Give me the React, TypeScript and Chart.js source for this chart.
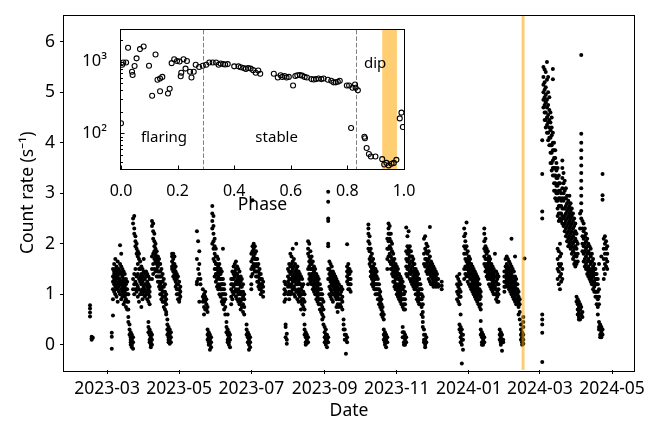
import React, { useEffect, useRef } from "react";
import { Chart, registerables } from "chart.js";

Chart.register(...registerables);

// ---------- main light curve: x = days since 2023-01-01, values = count rate (s^-1) ----------
const monthTickDays = [59, 120, 181, 243, 304, 365, 425, 486];
const monthTickLabels = ["2023-03", "2023-05", "2023-07", "2023-09", "2023-11", "2024-01", "2024-03", "2024-05"];
const rateTicks = [0, 1, 2, 3, 4, 5, 6];
const markerDay = 410.8; // 2024-02-15

type DayObs = [number, number[]];

const obsSpring2023: DayObs[] = [
  [44.6, [0.78, 0.72, 0.64, 0.56]], [46, [0.16, 0.13, 0.1]], [47, [0.14]],
  [63, [0.24, 0.16, -0.08]], [64, [0.58, 1.25, 1.35, 1.5, 1.1, 0.9]],
  [65, [1.6, 1.45, 1.3, 1.2, 1.05, 1.4]], [66, [1.7, 1.5, 1.35, 1.25, 1.15, 1.0]],
  [67, [1.55, 1.4, 1.3, 1.2, 1.1, 0.95]], [68, [1.65, 1.45, 1.35, 1.2, 1.1, 0.85]],
  [69, [1.5, 1.4, 1.3, 1.25, 1.15, 1.05]], [70, [1.97, 1.6, 1.45, 1.3, 1.2, 1.0]],
  [71, [1.8, 1.55, 1.4, 1.25, 1.1, 0.9]], [72, [1.5, 1.35, 1.25, 1.15, 1.05, 0.95]],
  [73, [1.45, 1.3, 1.2, 1.1, 1.0, 0.8]], [74, [1.4, 1.25, 1.15, 1.05, 0.95, 0.85]],
  [75, [1.3, 1.2, 1.1, 1.0, 0.9, 0.75]], [76, [1.25, 1.1, 1.0, 0.85, 0.7]],
  [77, [1.0, 0.85, 0.7, 0.55, 0.45]], [78, [0.4, 0.3, 0.2]],
  [79, [0.25, 0.15, 0.05, 0.1, 0.0]], [80, [0.2, 0.1, 0.0, -0.05]],
  [81, [0.15, 0.05, -0.08, 2.5, 2.4, 1.3, 1.1]], [82, [2.55, 2.3, 2.2, 1.4, 1.2, 1.0]],
  [83, [2.15, 2.05, 1.95, 1.5, 1.25, 1.1]], [84, [2.0, 1.9, 1.8, 1.35, 1.2, 1.05]],
  [85, [1.85, 1.75, 1.6, 1.4, 1.15, 0.95]], [86, [1.8, 1.7, 1.5, 1.3, 1.1, 0.85]],
  [87, [1.65, 1.5, 1.35, 1.25, 1.0]], [88, [1.55, 1.4, 1.3, 1.2, 1.05, 0.75]],
  [89, [1.5, 1.35, 1.25, 1.1, 1.0, 0.9]], [90, [1.7, 1.45, 1.3, 1.15, 1.05]],
  [91, [1.4, 1.3, 1.2, 1.1, 0.95]], [92, [1.45, 1.35, 1.2, 1.05, 1.0]],
  [93, [1.4, 1.25, 1.15, 1.0, 0.9]], [94, [1.35, 1.2, 1.1, 1.0, 0.85, 0.45, 0.35, 0.25]],
  [95, [1.3, 1.15, 1.05, 0.95, 0.8, 0.3, 0.2, 0.1, 0.05]], [96, [0.25, 0.15, 0.05, 0.0, -0.05]],
  [97, [0.2, 0.1, 0.0, 2.45, 2.35, 1.75, 1.5, 1.3]], [98, [2.4, 2.25, 2.1, 1.8, 1.6, 1.4]],
  [99, [2.2, 2.05, 1.95, 1.85, 1.7, 1.5]], [100, [2.0, 1.9, 1.8, 1.75, 1.65, 1.45]],
  [101, [1.85, 1.75, 1.7, 1.6, 1.5, 1.35]], [102, [1.75, 1.65, 1.55, 1.45, 1.35, 1.25]],
  [103, [1.7, 1.6, 1.45, 1.35, 1.25, 1.15]], [104, [1.6, 1.45, 1.35, 1.2, 1.1, 1.0]],
  [105, [1.5, 1.35, 1.25, 1.1, 1.0, 0.9]], [106, [1.4, 1.25, 1.15, 1.05, 0.95, 0.85]],
  [107, [1.3, 1.15, 1.05, 0.95, 0.85, 0.75]], [108, [1.2, 1.05, 0.95, 0.85, 0.7]],
  [109, [1.0, 0.9, 0.8, 0.65, 0.6]], [110, [0.5, 0.4, 0.3, 0.2]],
  [111, [0.35, 0.25, 0.15, 0.1, 0.05]], [112, [0.3, 0.2, 0.1, 0.05, 0.02]],
  [113, [0.25, 0.15, 0.05]], [114, [1.8, 1.75, 1.65, 1.55, 1.5]],
  [115, [1.8, 1.7, 1.6, 1.45, 1.35]], [116, [1.75, 1.6, 1.5, 1.4, 1.3]],
  [117, [1.55, 1.45, 1.35, 1.25, 1.15]], [118, [1.4, 1.3, 1.2, 1.1, 1.0]],
  [119, [1.35, 1.2, 1.1, 1.0, 0.9]], [120, [1.25, 1.1, 1.0, 0.9, 0.85]],
  [121, [1.15, 1.05, 0.95]],
];

const obsSummer2023: DayObs[] = [
  [135, [2.25, 1.7, 1.25, 1.2]], [136, [2.05, 1.5, 1.3]], [137, [1.85, 1.6, 1.4, 0.85]],
  [138, [1.3, 1.2]], [140, [1.1, 0.95, 0.85]], [141, [1.0, 0.9, 0.75, 0.6]],
  [142, [1.05, 0.95, 0.85, 0.7]], [143, [0.9, 0.8, 0.7]], [144, [0.75, 0.65, 0.3, 0.2, 0.1]],
  [145, [0.25, 0.15, 0.05, 0.0]], [146, [0.2, 0.1, 0.0, -0.1]], [147, [0.15, 0.05, -0.05]],
  [148, [2.75, 2.6, 2.45, 2.3, 2.0]], [149, [2.55, 2.35, 2.2, 2.05, 1.9, 1.7]],
  [150, [2.1, 1.95, 1.8, 1.65, 1.5, 1.35]], [151, [1.9, 1.75, 1.6, 1.5, 1.4, 1.25]],
  [152, [1.75, 1.6, 1.5, 1.4, 1.3, 1.15]], [153, [1.7, 1.55, 1.45, 1.35, 1.2, 1.1]],
  [154, [1.6, 1.5, 1.4, 1.3, 1.15, 1.0]], [155, [1.5, 1.4, 1.3, 1.2, 1.1, 0.95]],
  [156, [1.45, 1.3, 1.2, 1.1, 1.0, 0.85]], [157, [1.9, 1.3, 1.2, 1.1, 1.0, 0.9, 0.8]],
  [158, [1.2, 1.1, 1.0, 0.85, 0.7]], [159, [1.0, 0.9, 0.75, 0.6]],
  [160, [0.45, 0.35, 0.25]], [161, [0.6, 0.3, 0.2, 0.1, 0.05]],
  [162, [0.25, 0.15, 0.05, 0.0]], [163, [0.2, 0.1, -0.05]],
  [164, [1.3, 1.2, 1.1, 0.95, 0.8]], [165, [1.45, 1.3, 1.2, 1.05, 0.9]],
  [166, [1.55, 1.4, 1.3, 1.15, 1.0]], [167, [1.6, 1.45, 1.35, 1.2, 1.05]],
  [168, [1.65, 1.5, 1.4, 1.25, 1.1, 0.95]], [169, [1.55, 1.4, 1.3, 1.2, 1.05, 0.9]],
  [170, [1.5, 1.35, 1.25, 1.1, 1.0, 0.85]], [171, [1.45, 1.3, 1.2, 1.05, 0.9, 0.8]],
  [172, [1.35, 1.25, 1.15, 1.0, 0.85, 0.7]], [173, [1.3, 1.15, 1.05, 0.9, 0.75]],
  [174, [1.2, 1.05, 0.95, 0.8, 0.65]], [175, [1.0, 0.9, 0.75, 0.6]],
  [177, [0.4, 0.3, 0.2]], [178, [0.25, 0.15, 0.05]], [179, [0.2, 0.1, 0.0, -0.1]],
  [180, [0.15, 0.05, -0.05]], [181, [1.1, 1.2, 1.35, 1.5, 1.65, 1.8]],
  [182, [2.86, 1.95, 1.85, 1.7, 1.55, 1.4]], [183, [2.0, 1.9, 1.75, 1.6, 1.5]],
  [184, [1.95, 1.8, 1.7, 1.55, 1.45]], [185, [1.85, 1.7, 1.6, 1.45, 1.35]],
  [186, [1.7, 1.55, 1.45, 1.35, 1.25]], [187, [1.6, 1.45, 1.35, 1.25, 1.15]],
  [188, [1.5, 1.4, 1.3, 1.2, 1.1]], [189, [1.4, 1.3, 1.2, 1.1, 1.0]],
  [190, [1.3, 1.2, 1.15, 1.05]], [191, [1.25, 1.15, 1.05, 0.95]],
];

const obsAutumn2023: DayObs[] = [
  [209, [1.25, 1.1, 1.0, 0.85]], [210, [1.2, 1.05, 0.9, 0.4, 0.35, 0.15]], [211, [0.22, 0.1, 0.02]],
  [212, [1.5, 1.35, 1.25, 1.15, 1.0]], [213, [1.6, 1.45, 1.3, 1.2, 1.05, 0.9]],
  [214, [1.8, 1.55, 1.4, 1.3, 1.15, 1.0]], [215, [1.75, 1.6, 1.45, 1.3, 1.2, 1.05]],
  [216, [1.9, 1.65, 1.5, 1.35, 1.25, 1.1]], [217, [1.7, 1.55, 1.4, 1.3, 1.15, 1.0]],
  [218, [1.6, 1.45, 1.35, 1.25, 1.1, 0.95]], [219, [2.0, 1.5, 1.4, 1.3, 1.2, 1.05]],
  [220, [1.55, 1.4, 1.3, 1.2, 1.05, 0.9]], [221, [1.45, 1.35, 1.25, 1.1, 1.0, 0.85]],
  [222, [1.4, 1.3, 1.2, 1.05, 0.95]], [223, [1.35, 1.2, 1.1, 1.0, 0.85, 0.7]],
  [224, [1.3, 1.15, 1.0, 0.9, 0.8]], [225, [1.2, 1.05, 0.9, 0.75, 0.6]],
  [226, [1.0, 0.85, 0.7, 0.4, 0.3, 0.2]], [227, [0.25, 0.15, 0.05, 0.0]],
  [228, [0.2, 0.1, 0.03]], [229, [0.15, 0.05, 2.05, 1.9, 1.8, 1.5, 1.2]],
  [230, [2.0, 1.75, 1.65, 1.55, 1.4, 1.3]], [231, [1.85, 1.7, 1.6, 1.5, 1.35, 1.25]],
  [232, [1.75, 1.6, 1.5, 1.4, 1.3, 1.2]], [233, [1.65, 1.5, 1.4, 1.3, 1.2, 1.1]],
  [234, [1.55, 1.45, 1.35, 1.25, 1.15, 1.05]], [235, [1.5, 1.4, 1.3, 1.2, 1.1, 1.0]],
  [236, [1.4, 1.3, 1.2, 1.1, 1.0, 0.9]], [237, [1.35, 1.25, 1.15, 1.05, 0.95, 0.85]],
  [238, [1.3, 1.2, 1.1, 1.0, 0.9, 0.8]], [239, [1.2, 1.1, 1.0, 0.9, 0.8, 0.7]],
  [240, [1.1, 1.0, 0.9, 0.8, 0.65]], [241, [1.0, 0.9, 0.75, 0.6, 0.5]],
  [242, [0.85, 0.7, 0.55, 0.4]], [243, [0.35, 0.25, 0.15, 0.05]],
  [244, [0.3, 0.2, 0.1, 0.0]], [245, [0.2, 0.1, -0.05]],
  [246, [0.15, 0.05, 3.03, 2.83, 2.5, 2.45, 2.0, 1.95, 1.5, 1.3]],
  [247, [1.65, 1.5, 1.4, 1.3, 1.15, 1.0]], [248, [1.6, 1.45, 1.35, 1.25, 1.1, 0.95]],
  [249, [1.55, 1.4, 1.3, 1.2, 1.05, 0.9]], [250, [1.45, 1.35, 1.25, 1.15, 1.0, 0.85]],
  [251, [1.4, 1.3, 1.2, 1.1, 1.0]], [252, [1.35, 1.25, 1.15, 1.05, 0.95]],
  [253, [1.3, 1.2, 1.1, 1.0, 0.9, 0.75]], [254, [1.25, 1.15, 1.05, 0.95, 0.8, 0.65]],
  [255, [1.2, 1.1, 1.0, 0.9, 0.75]], [256, [1.1, 1.0, 0.9, 0.8]],
  [257, [1.15, 1.05, 0.9, 0.75]], [258, [1.1, 0.95, 0.85, 0.7]],
  [259, [0.5, 0.4, 0.3]], [260, [0.3, 0.2, 0.1]], [261, [0.2, 0.1, -0.18]],
  [262, [0.15, 0.05, 1.99, 1.55, 1.45, 1.35, 1.25]], [263, [1.6, 1.5, 1.4, 1.3, 1.2, 1.1]],
  [264, [1.5, 1.4, 1.3, 1.2, 1.1]], [265, [1.45, 1.3, 1.2, 1.05]],
];

const obsWinter2023: DayObs[] = [
  [280, [2.38, 2.3, 2.2, 2.05, 1.9]], [281, [2.15, 2.0, 1.85, 1.7, 1.6]],
  [282, [1.9, 1.75, 1.65, 1.55, 1.45, 1.35]], [283, [1.8, 1.65, 1.5, 1.4, 1.3, 1.2]],
  [284, [1.7, 1.55, 1.45, 1.35, 1.25, 1.15]], [285, [1.6, 1.5, 1.4, 1.3, 1.2, 1.1]],
  [286, [1.5, 1.4, 1.3, 1.2, 1.1, 1.0]], [287, [1.45, 1.35, 1.2, 1.1, 1.0]],
  [288, [1.3, 1.2, 1.1, 1.0, 0.9]], [289, [1.2, 1.1, 1.0, 0.9, 0.8]],
  [290, [1.05, 0.95, 0.85, 0.75]], [291, [0.9, 0.8, 0.7, 0.6]], [292, [0.75, 0.65, 0.55]],
  [293, [0.6, 0.5, 0.3, 0.2, 0.1]], [294, [0.25, 0.15, 0.05, 0.0]],
  [295, [0.2, 0.1, -0.05]], [296, [0.15, 0.05, 2.1, 1.9, 1.7, 1.5]],
  [297, [2.4, 2.3, 2.2, 2.05, 1.9, 1.75]], [298, [2.35, 2.2, 2.1, 1.95, 1.8, 1.65]],
  [299, [2.2, 2.05, 1.9, 1.75, 1.6, 1.5]], [300, [2.0, 1.85, 1.7, 1.6, 1.5, 1.4]],
  [301, [1.8, 1.65, 1.55, 1.45, 1.35, 1.25]], [302, [1.7, 1.55, 1.45, 1.35, 1.25, 1.15]],
  [303, [1.6, 1.5, 1.4, 1.3, 1.2, 1.1]], [304, [1.55, 1.45, 1.35, 1.2, 1.1, 1.0]],
  [305, [1.5, 1.4, 1.3, 1.15, 1.05, 0.95]], [306, [1.4, 1.3, 1.2, 1.1, 1.0, 0.9]],
  [307, [1.35, 1.25, 1.15, 1.05, 0.95, 0.85]], [308, [1.3, 1.2, 1.1, 1.0, 0.9, 0.8]],
  [309, [1.25, 1.1, 1.0, 0.9, 0.75, 0.35, 0.25, 0.15]],
  [310, [1.15, 1.0, 0.9, 0.8, 0.7, 0.25, 0.15, 0.05, 0.0]],
  [311, [1.05, 0.9, 0.8, 0.7, 0.2, 0.1, 0.0]], [312, [0.15, 0.05, 2.32, 1.85, 1.7, 1.55, 1.4]],
  [313, [2.15, 1.95, 1.8, 1.65, 1.5, 1.35]], [314, [2.25, 1.9, 1.8, 1.7, 1.55, 1.4]],
  [315, [1.95, 1.85, 1.75, 1.6, 1.45, 1.3]], [316, [1.85, 1.75, 1.65, 1.5, 1.4, 1.25]],
  [317, [1.75, 1.65, 1.55, 1.45, 1.3, 1.2]], [318, [1.7, 1.6, 1.45, 1.35, 1.25, 1.15]],
  [319, [1.6, 1.5, 1.4, 1.3, 1.2, 1.1]], [320, [1.5, 1.4, 1.3, 1.2, 1.1, 1.0]],
  [321, [1.45, 1.35, 1.25, 1.15, 1.0, 0.9]], [322, [1.4, 1.3, 1.2, 1.05, 0.95, 0.85]],
  [323, [1.3, 1.2, 1.1, 1.0, 0.9, 0.8]], [324, [1.2, 1.1, 1.0, 0.9, 0.8]],
  [325, [1.1, 1.0, 0.9, 0.75, 0.6]], [326, [0.95, 0.8, 0.65, 0.55, 0.45, 0.35]],
  [327, [0.3, 0.2, 0.1, 0.05, 2.1, 1.8, 1.6]], [328, [0.2, 0.1, 0.0, -0.05, 2.15, 1.9, 1.7, 1.55]],
  [329, [0.15, 0.05, 2.0, 1.85, 1.7, 1.6, 1.45]], [330, [1.95, 1.8, 1.65, 1.5, 1.4]],
  [331, [1.85, 1.7, 1.55, 1.45, 1.3]], [332, [2.33, 1.75, 1.6, 1.5, 1.4, 1.25]],
  [333, [1.65, 1.55, 1.45, 1.35, 1.2]], [334, [1.6, 1.5, 1.4, 1.3, 1.2]],
  [335, [1.55, 1.45, 1.35, 1.25, 1.15]], [336, [1.5, 1.4, 1.3, 1.2]],
  [337, [1.45, 1.35, 1.25, 1.15]], [338, [1.4, 1.3, 1.2]], [339, [1.3, 1.2, 1.15]],
  [342, [1.25, 1.17, 1.1]],
];

const obsEarly2024: DayObs[] = [
  [355, [1.35, 1.2, 1.05, 0.9]], [356, [1.3, 1.15, 1.0, 0.85]],
  [357, [1.4, 1.25, 1.1, 0.95, 0.8, 0.4, 0.3]], [358, [1.2, 1.05, 0.95, 0.6, 0.35, 0.25, 0.15, 0.05]],
  [359, [0.3, 0.2, 0.1, 0.0, -0.37]], [360, [0.2, 0.1, -0.1]],
  [361, [2.3, 2.15, 1.95, 1.8, 1.5, 1.3]], [362, [2.2, 2.05, 1.9, 1.7, 1.55, 1.4]],
  [363, [2.42, 1.95, 1.8, 1.65, 1.5, 1.35]], [364, [1.85, 1.7, 1.6, 1.5, 1.4, 1.25]],
  [365, [1.75, 1.65, 1.55, 1.45, 1.35, 1.2]], [366, [1.7, 1.6, 1.5, 1.4, 1.3, 1.15]],
  [367, [1.6, 1.5, 1.4, 1.3, 1.2, 1.1]], [368, [1.55, 1.45, 1.35, 1.25, 1.15, 1.05]],
  [369, [1.5, 1.4, 1.3, 1.2, 1.1, 1.0]], [370, [1.45, 1.35, 1.25, 1.15, 1.05, 0.95]],
  [371, [1.4, 1.3, 1.2, 1.1, 1.0, 0.9]], [372, [1.35, 1.25, 1.15, 1.05, 0.95, 0.85]],
  [373, [1.3, 1.2, 1.1, 1.0, 0.9, 0.8]], [374, [1.2, 1.1, 1.0, 0.9, 0.75]],
  [375, [1.05, 0.95, 0.8, 0.7, 0.47, 0.3, 0.2]], [376, [0.25, 0.15, 0.05, 0.0]],
  [377, [0.2, 0.1, 0.0]], [378, [0.15, 0.05, 2.3, 2.2, 2.05, 1.9, 1.75, 1.6]],
  [379, [2.1, 1.95, 1.85, 1.7, 1.55, 1.45]], [380, [1.9, 1.8, 1.7, 1.6, 1.5, 1.35]],
  [381, [1.85, 1.7, 1.6, 1.5, 1.4, 1.3]], [382, [1.75, 1.65, 1.55, 1.45, 1.35, 1.2]],
  [383, [1.7, 1.6, 1.5, 1.4, 1.3, 1.15]], [384, [1.6, 1.5, 1.4, 1.3, 1.2, 1.1]],
  [385, [1.55, 1.45, 1.35, 1.25, 1.15, 1.05]], [386, [1.5, 1.4, 1.3, 1.2, 1.1, 1.0]],
  [387, [1.8, 1.45, 1.35, 1.25, 1.15, 1.0]], [388, [1.45, 1.35, 1.25, 1.1, 1.0, 0.9]],
  [389, [1.4, 1.3, 1.2, 1.05, 0.95, 0.85]], [390, [1.35, 1.2, 1.1, 1.0, 0.85]],
  [391, [0.3, 0.2, 0.1]], [392, [0.25, 0.15, 0.05, 0.0]], [393, [0.2, 0.1, -0.12]],
  [394, [0.1, 0.05]], [395, [1.45, 1.35, 1.25, 1.15, 1.05]],
  [396, [1.7, 1.55, 1.45, 1.35, 1.25, 1.15]], [397, [1.75, 1.6, 1.5, 1.4, 1.3, 1.2]],
  [398, [1.7, 1.55, 1.45, 1.35, 1.25, 1.15]], [399, [1.65, 1.5, 1.4, 1.3, 1.2, 1.1]],
  [400, [1.6, 1.45, 1.35, 1.25, 1.15, 1.05]], [401, [2.1, 1.55, 1.4, 1.3, 1.2, 1.1, 1.0]],
  [402, [1.5, 1.35, 1.25, 1.15, 1.05, 0.95]], [403, [1.45, 1.3, 1.2, 1.1, 1.0, 0.9]],
  [404, [1.75, 1.35, 1.25, 1.15, 1.05, 0.95, 0.85]], [405, [1.3, 1.2, 1.1, 1.0, 0.9, 0.8]],
  [406, [1.2, 1.1, 1.0, 0.9, 0.8]], [407, [1.05, 0.95, 0.85, 0.75, 0.6]],
  [408, [0.9, 0.8, 0.65, 0.5]], [409, [0.4, 0.3, 0.2, 0.1]],
  [410, [0.25, 0.15, 0.05, 0.0]], [411, [0.55, 0.45, 0.35, 0.2, 0.1, 0.02]], [412, [1.71]],
];

const obsSpring2024: DayObs[] = [
  [427, [4.05, 3.38, 2.64, 2.5, 0.6, 0.5, 0.4, 0.24, -0.34]],
  [428, [5.5, 5.3, 5.15, 5.0, 4.85, 4.7]], [429, [5.45, 5.2, 5.05, 4.9, 4.75, 4.6, 4.45]],
  [430, [5.4, 5.1, 4.95, 4.8, 4.6, 4.45, 4.3]], [431, [5.6, 5.25, 4.85, 4.7, 4.5, 4.35, 4.2]],
  [432, [5.3, 5.0, 4.75, 4.55, 4.4, 4.2, 4.05]], [433, [4.9, 4.65, 4.45, 4.3, 4.1, 3.95]],
  [434, [4.6, 4.4, 4.25, 4.1, 3.95, 3.8, 3.6]], [435, [4.5, 4.3, 4.15, 3.95, 3.8, 3.6, 3.45]],
  [436, [5.46, 5.26, 4.2, 4.0, 3.85, 3.65, 3.5, 3.35]], [437, [4.0, 3.85, 3.7, 3.5, 3.35, 3.2, 3.05]],
  [438, [3.85, 3.7, 3.5, 3.35, 3.2, 3.05, 2.9]], [439, [3.6, 3.45, 3.3, 3.15, 3.0, 2.85]],
  [440, [3.5, 3.3, 3.15, 3.0, 2.85, 2.7, 2.55, 1.9, 1.7, 1.5, 1.3]],
  [441, [3.35, 3.2, 3.05, 2.9, 2.75, 2.6, 2.45, 1.85, 1.6, 1.45, 1.2]],
  [442, [3.2, 3.05, 2.9, 2.75, 2.6, 2.5, 2.0, 1.75, 1.55, 1.35, 1.1]],
  [443, [3.0, 2.85, 2.75, 2.6, 2.45, 1.8, 1.6, 1.4, 1.25]],
  [444, [3.65, 3.5, 3.3, 3.1, 2.9, 2.7, 2.55, 2.4, 1.5, 1.3]],
  [445, [3.4, 3.2, 3.0, 2.85, 2.7, 2.5, 2.35]], [446, [3.25, 3.05, 2.9, 2.7, 2.55, 2.4, 2.25]],
  [447, [3.1, 2.9, 2.75, 2.6, 2.45, 2.3, 2.15]], [448, [2.95, 2.8, 2.65, 2.5, 2.35, 2.2, 2.05]],
  [449, [2.85, 2.7, 2.55, 2.4, 2.25, 2.1, 1.95]], [450, [2.95, 2.75, 2.6, 2.45, 2.3, 2.15, 2.0]],
  [451, [2.8, 2.65, 2.5, 2.35, 2.2, 2.05, 1.9]], [452, [2.7, 2.55, 2.4, 2.25, 2.1, 1.95, 1.8]],
  [453, [2.6, 2.45, 2.3, 2.15, 2.0, 1.85, 1.7]], [454, [2.5, 2.35, 2.2, 2.05, 1.9, 1.75, 1.6]],
  [455, [2.4, 2.25, 2.1, 1.95, 1.8, 1.65, 1.55]], [456, [2.2, 2.05, 1.9, 1.75, 1.6, 0.95, 0.85]],
  [457, [2.0, 1.8, 1.65, 0.9, 0.8, 0.7, 0.6]], [458, [0.85, 0.75, 0.65, 0.55, 0.5]],
  [459, [2.6, 2.3, 0.8, 0.7, 0.6, 0.5]],
  [460, [5.74, 4.18, 4.0, 3.85, 3.7, 3.55, 3.4, 3.25, 3.1, 2.95, 2.8, 2.65, 2.5, 0.75, 0.6]],
  [461, [2.45, 2.3, 2.15, 2.0, 1.85, 0.65, 0.55]], [462, [2.4, 2.25, 2.1, 1.95, 1.8, 1.65]],
  [463, [2.3, 2.15, 2.0, 1.85, 1.7, 1.55]], [464, [2.2, 2.05, 1.9, 1.75, 1.6, 1.5]],
  [465, [2.1, 1.95, 1.8, 1.65, 1.5, 1.4]], [466, [2.0, 1.85, 1.7, 1.55, 1.45, 1.35]],
  [467, [1.95, 1.8, 1.65, 1.5, 1.4, 1.3]], [468, [1.9, 1.75, 1.6, 1.45, 1.35, 1.25]],
  [469, [1.8, 1.65, 1.5, 1.4, 1.3, 1.2]], [470, [1.7, 1.55, 1.45, 1.35, 1.25, 1.1]],
  [471, [1.6, 1.5, 1.4, 1.25, 1.15, 1.05]], [472, [1.5, 1.4, 1.3, 1.2, 1.05, 0.95]],
  [473, [1.4, 1.3, 1.2, 1.05, 0.95, 0.8]], [474, [1.3, 1.2, 1.05, 0.9, 0.75, 0.6]],
  [475, [1.6, 1.1, 0.95, 0.8, 0.45, 0.35, 0.3]], [476, [0.4, 0.3, 0.2, 0.15]],
  [477, [1.75, 0.35, 0.25, 0.2, 0.15]], [478, [3.38, 2.96, 2.87, 0.3, 0.2]],
  [479, [2.1, 1.9, 1.7, 1.5, 1.3]], [480, [2.15, 2.0, 1.8, 1.6, 1.4]],
  [481, [2.05, 1.9, 1.7, 1.55]], [482, [1.95, 1.8, 1.65, 1.5]],
];

// ---------- inset: folded profile ----------
const foldPhase = [
  0.0, 0.004, 0.008, 0.018, 0.025, 0.039, 0.041, 0.048, 0.055, 0.067, 0.08, 0.099, 0.11, 0.122,
  0.129, 0.138, 0.138, 0.146, 0.166, 0.172, 0.179, 0.188, 0.198, 0.207, 0.211, 0.213, 0.221,
  0.228, 0.233, 0.244, 0.249, 0.257, 0.264, 0.276, 0.289, 0.301, 0.312, 0.324, 0.336, 0.345,
  0.352, 0.361, 0.368, 0.377, 0.4, 0.415, 0.423, 0.433, 0.441, 0.449, 0.458, 0.467, 0.476,
  0.485, 0.492, 0.54, 0.554, 0.564, 0.57, 0.578, 0.585, 0.593, 0.608, 0.616, 0.623, 0.632,
  0.64, 0.649, 0.657, 0.673, 0.681, 0.689, 0.698, 0.708, 0.716, 0.731, 0.743, 0.751, 0.759,
  0.766, 0.773, 0.798, 0.806, 0.813, 0.818, 0.827, 0.829, 0.837, 0.86, 0.862, 0.868, 0.876,
  0.883, 0.899, 0.923, 0.93, 0.938, 0.946, 0.956, 0.964, 0.973, 0.985, 0.991, 0.996,
];
const foldRate = [
  139, 903, 970, 970, 1553, 721, 651, 866, 1108, 1490, 1617, 875, 334, 1253,
  558, 386, 581, 612, 359, 419, 950, 1074, 1020, 1000, 625, 699, 1074,
  798, 1020, 721, 600, 721, 903, 840, 875, 903, 970, 970, 970, 903,
  940, 921, 912, 921, 857, 857, 832, 815, 791, 815, 798, 759, 699,
  752, 678, 678, 600, 644, 612, 631, 600, 612, 464, 631, 644, 651,
  637, 612, 600, 570, 564, 570, 581, 570, 581, 558, 541, 514, 514,
  525, 541, 464, 464, 119, 433, 479, 433, 398, 90, 86, 63, 52,
  48, 48, 44, 37, 39, 36, 38, 39, 43, 162, 195, 123,
];
const phaseTicks = [0, 0.2, 0.4, 0.6, 0.8, 1.0];
const rateDecades = [100, 1000];
const rateDecadeLabels = ["10²", "10³"];
const rateMinorTicks = [40, 50, 60, 70, 80, 90, 200, 300, 400, 500, 600, 700, 800, 900, 2000];
const stateBoundaries = [0.29, 0.83];
const dipBand = [0.923, 0.975];
const stateLabels = ["flaring", "stable", "dip"];
const stateLabelPhase = [0.152, 0.55, 0.898];
const stateLabelRate = [76.5, 76.5, 824];

const FONT = "'Noto Sans', 'DejaVu Sans', sans-serif";
const ORANGE = "rgba(255,165,0,0.55)";

function flatten(groups: DayObs[][]) {
  const pts: { x: number; y: number }[] = [];
  for (const g of groups) for (const [d, vs] of g) for (const v of vs) pts.push({ x: d, y: v });
  return pts;
}

export default function App() {
  const mainRef = useRef<HTMLCanvasElement>(null);
  const insetRef = useRef<HTMLCanvasElement>(null);

  useEffect(() => {
    const points = flatten([obsSpring2023, obsSummer2023, obsAutumn2023, obsWinter2023, obsEarly2024, obsSpring2024]);

    const mainDecor = {
      id: "mainDecor",
      afterDatasetsDraw(chart: any) {
        const { ctx, chartArea } = chart;
        const x = chart.scales.x.getPixelForValue(markerDay);
        ctx.save();
        ctx.strokeStyle = ORANGE;
        ctx.lineWidth = 3;
        ctx.beginPath();
        ctx.moveTo(x, chartArea.top);
        ctx.lineTo(x, chartArea.bottom);
        ctx.stroke();
        ctx.restore();
      },
      afterDraw(chart: any) {
        const { ctx, chartArea } = chart;
        ctx.save();
        ctx.strokeStyle = "#000";
        ctx.lineWidth = 1;
        ctx.strokeRect(Math.round(chartArea.left) - 0.5, Math.round(chartArea.top) - 0.5,
          Math.round(chartArea.right - chartArea.left) + 1, Math.round(chartArea.bottom - chartArea.top) + 1);
        ctx.restore();
      },
    };

    const main = new Chart(mainRef.current as HTMLCanvasElement, {
      type: "scatter",
      data: {
        datasets: [{ data: points, pointRadius: 2.0, pointBorderWidth: 0, backgroundColor: "#000", borderColor: "#000" }],
      },
      options: {
        responsive: false,
        animation: false,
        events: [],
        layout: { padding: { left: 0, right: 36, top: 5, bottom: 0 } },
        plugins: { legend: { display: false }, tooltip: { enabled: false } },
        scales: {
          x: {
            type: "linear",
            min: 22.6,
            max: 504.6,
            afterBuildTicks: (s: any) => { s.ticks = monthTickDays.map((v) => ({ value: v })); },
            afterFit: (s: any) => { s.height = 52; },
            border: { display: false },
            grid: { drawOnChartArea: false, drawTicks: true, tickLength: 4, tickColor: "#000", tickWidth: 1 },
            ticks: {
              color: "#000", font: { family: FONT, size: 17.5 }, padding: 5, maxRotation: 0, autoSkip: false,
              callback: (v: any) => { const i = monthTickDays.indexOf(Number(v)); return i >= 0 ? monthTickLabels[i] : ""; },
            },
            title: { display: true, text: "Date", color: "#000", font: { family: FONT, size: 17.5 }, padding: { top: 0, bottom: 0 } },
          },
          y: {
            type: "linear",
            min: -0.5,
            max: 6.52,
            afterBuildTicks: (s: any) => { s.ticks = rateTicks.map((v) => ({ value: v })); },
            afterFit: (s: any) => { s.width = 64; },
            border: { display: false },
            grid: { drawOnChartArea: false, drawTicks: true, tickLength: 4, tickColor: "#000", tickWidth: 1 },
            ticks: { color: "#000", font: { family: FONT, size: 17.5 }, padding: 5, callback: (v: any) => String(v) },
            title: { display: true, text: "Count rate (s⁻¹)", color: "#000", font: { family: FONT, size: 17.5 }, padding: { top: 17.7, bottom: 0 } },
          },
        },
      },
      plugins: [mainDecor],
    } as any);

    const insetDecor = {
      id: "insetDecor",
      beforeDraw(chart: any) {
        const { ctx, chartArea } = chart;
        ctx.save();
        ctx.fillStyle = "#fff";
        ctx.fillRect(chartArea.left, chartArea.top, chartArea.right - chartArea.left, chartArea.bottom - chartArea.top);
        ctx.restore();
      },
      beforeDatasetsDraw(chart: any) {
        const { ctx, chartArea } = chart;
        const xs = chart.scales.x, ys = chart.scales.y;
        ctx.save();
        const b0 = xs.getPixelForValue(dipBand[0]), b1 = xs.getPixelForValue(dipBand[1]);
        ctx.fillStyle = ORANGE;
        ctx.fillRect(b0, chartArea.top, b1 - b0, chartArea.bottom - chartArea.top);
        ctx.strokeStyle = "#808080";
        ctx.lineWidth = 1;
        ctx.setLineDash([4.5, 2]);
        for (const p of stateBoundaries) {
          const x = Math.round(xs.getPixelForValue(p)) + 0.5;
          ctx.beginPath();
          ctx.moveTo(x, chartArea.top);
          ctx.lineTo(x, chartArea.bottom);
          ctx.stroke();
        }
        ctx.setLineDash([]);
        ctx.fillStyle = "#000";
        ctx.font = `15px ${FONT}`;
        ctx.textAlign = "center";
        ctx.textBaseline = "alphabetic";
        stateLabels.forEach((t, i) => {
          ctx.fillText(t, xs.getPixelForValue(stateLabelPhase[i]), ys.getPixelForValue(stateLabelRate[i]));
        });
        ctx.restore();
      },
      afterDraw(chart: any) {
        const { ctx, chartArea } = chart;
        const xs = chart.scales.x, ys = chart.scales.y;
        ctx.save();
        ctx.strokeStyle = "#000";
        ctx.lineWidth = 1;
        const L = Math.round(chartArea.left) - 0.5, T = Math.round(chartArea.top) - 0.5;
        const R = Math.round(chartArea.right) + 0.5, B = Math.round(chartArea.bottom) + 0.5;
        ctx.strokeRect(L, T, R - L, B - T);
        ctx.beginPath();
        for (const p of phaseTicks) {
          const x = Math.round(xs.getPixelForValue(p)) + 0.5;
          ctx.moveTo(x, B);
          ctx.lineTo(x, B - 4);
        }
        for (const v of rateDecades) {
          const y = Math.round(ys.getPixelForValue(v)) + 0.5;
          ctx.moveTo(L, y);
          ctx.lineTo(L + 4, y);
        }
        for (const v of rateMinorTicks) {
          const y = Math.round(ys.getPixelForValue(v)) + 0.5;
          ctx.moveTo(L, y);
          ctx.lineTo(L + 2.5, y);
        }
        ctx.stroke();
        ctx.restore();
      },
    };

    const inset = new Chart(insetRef.current as HTMLCanvasElement, {
      type: "scatter",
      data: {
        datasets: [{
          data: foldPhase.map((p, i) => ({ x: p, y: foldRate[i] })),
          pointRadius: 2.5, pointBorderWidth: 1.1, borderColor: "#000", backgroundColor: "rgba(0,0,0,0)",
        }],
      },
      options: {
        responsive: false,
        animation: false,
        events: [],
        layout: { padding: { left: 0, right: 14, top: 10, bottom: 0 } },
        plugins: { legend: { display: false }, tooltip: { enabled: false } },
        scales: {
          x: {
            type: "linear", min: 0, max: 1,
            afterBuildTicks: (s: any) => { s.ticks = phaseTicks.map((v) => ({ value: v })); },
            afterFit: (s: any) => { s.height = 55; },
            border: { display: false },
            grid: { display: false },
            ticks: { color: "#000", font: { family: FONT, size: 16 }, padding: 4.7, maxRotation: 0, autoSkip: false,
              callback: (v: any) => Number(v).toFixed(1) },
            title: { display: true, text: "Phase", color: "#000", font: { family: FONT, size: 17.5 }, padding: { top: 0, bottom: 8.8 } },
          },
          y: {
            type: "logarithmic", min: 32.1, max: 2754,
            afterBuildTicks: (s: any) => { s.ticks = rateDecades.map((v) => ({ value: v })); },
            afterFit: (s: any) => { s.width = 41; },
            border: { display: false },
            grid: { display: false },
            ticks: { color: "#000", font: { family: FONT, size: 16.5 }, padding: 6, autoSkip: false,
              callback: (v: any) => { const i = rateDecades.indexOf(Number(v)); return i >= 0 ? rateDecadeLabels[i] : ""; } },
          },
        },
      },
      plugins: [insetDecor],
    } as any);

    return () => { main.destroy(); inset.destroy(); };
  }, []);

  return (
    <div style={{ position: "fixed", left: 0, top: 0, width: 670, height: 422, background: "#fff" }}>
      <canvas ref={mainRef} width={670} height={422} style={{ position: "absolute", left: 0, top: 0, width: 670, height: 422 }} />
      <canvas ref={insetRef} width={340} height={210} style={{ position: "absolute", left: 80, top: 14, width: 340, height: 210 }} />
    </div>
  );
}
